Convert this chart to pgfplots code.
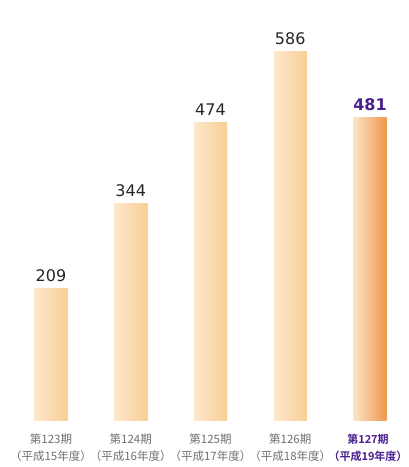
\documentclass[border=0pt]{standalone}
\usepackage{fontspec}
\setmainfont{DejaVu Sans}
\newfontfamily\cjk{Noto Sans CJK JP}
\newfontfamily\cjkb{Noto Sans CJK JP Bold}
\usepackage{pgfplots}
\pgfplotsset{compat=1.18}
\definecolor{barL}{HTML}{FDE8CB}
\definecolor{barR}{HTML}{F8CE94}
\definecolor{lastL}{HTML}{FCE4C8}
\definecolor{lastR}{HTML}{EE984A}
\definecolor{lblgray}{HTML}{707070}
\definecolor{purp}{HTML}{4B1F8E}
\begin{document}
\begin{tikzpicture}
\begin{axis}[
  at={(0,0)}, anchor=origin,
  x=79.75pt, y=0.628pt,
  xmin=-0.6, xmax=4.45, ymin=0, ymax=640,
  axis lines=none, clip=false,
  ybar, bar width=33pt, bar shift=0pt,
  /pgf/number format/assume math mode=true,
  nodes near coords,
  nodes near coords style={font=\fontsize{16}{16}\selectfont, text=black!85, anchor=base, inner sep=0pt, yshift=7pt},
]
\addplot[draw=none, left color=barL, right color=barR] coordinates {(0,209)};
\addplot[draw=none, left color=barL, right color=barR] coordinates {(1,344)};
\addplot[draw=none, left color=barL, right color=barR] coordinates {(2,474)};
\addplot[draw=none, left color=barL, right color=barR] coordinates {(3,586)};
\addplot[draw=none, left color=lastL, right color=lastR,
  nodes near coords style={font=\fontsize{16}{16}\selectfont\bfseries, text=purp}] coordinates {(4,481)};
\foreach \i/\a/\b in {0/123/15,1/124/16,2/125/17,3/126/18} {
  \edef\tmp{\noexpand\node[font=\noexpand\cjk\noexpand\fontsize{11.5}{16.5}\noexpand\selectfont, text=lblgray, align=center, anchor=north, inner sep=0pt] at (axis cs:\i,0) [yshift=-14pt] {第\a 期\\（平成\b 年度）};}
  \tmp
}
\node[font=\cjkb\fontsize{11}{16.5}\selectfont, text=purp, align=center, anchor=north, inner sep=0pt] at (axis cs:4,0) [yshift=-14pt, xshift=-2pt] {第127期\\（平成19年度）};
\end{axis}
\pgfresetboundingbox
\path[use as bounding box] (-51pt,-47pt) rectangle (357pt,420pt);
\end{tikzpicture}
\end{document}
